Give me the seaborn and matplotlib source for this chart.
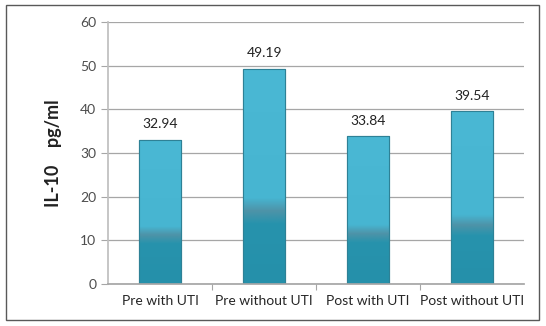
import numpy as np
import pandas as pd
import matplotlib
matplotlib.use("Agg")
import matplotlib.pyplot as plt
from matplotlib.colors import LinearSegmentedColormap
from matplotlib.patches import Rectangle
import seaborn as sns

categories = ["Pre with UTI", "Pre without UTI", "Post with UTI", "Post without UTI"]
values = [32.94, 49.19, 33.84, 39.54]
value_labels = ["32.94", "49.19", "33.84", "39.54"]
y_ticks = [0, 10, 20, 30, 40, 50, 60]
y_label = "IL-10    pg/ml"

sns.set_theme(style="white")
plt.rcParams['font.family'] = ['Lato', 'DejaVu Sans']

df = pd.DataFrame({"group": categories, "value": values})

fig = plt.figure(figsize=(5.46, 3.26), dpi=100)
ax = fig.add_axes([0.198, 0.129, 0.762, 0.804])

sns.barplot(data=df, x="group", y="value", ax=ax, width=0.4,
            color="#4AB8D4", edgecolor="#2E8196", linewidth=0.8, saturation=1)

ax.set_ylim(0, 60)
ax.set_xlim(-0.5, 3.5)
ax.set_yticks(y_ticks)
ax.set_yticklabels([str(t) for t in y_ticks], color="#4D4D4D", fontsize=10)
ax.tick_params(axis='x', labelsize=10, labelcolor="#262626", length=0, pad=8)
ax.set_xlabel("")
ax.set_ylabel(y_label, fontsize=13, fontweight="bold", color="#222222", labelpad=13)
ax.yaxis.grid(True, color="#A6A6A6", linewidth=0.9)
ax.set_axisbelow(True)
for s in ["top", "right"]:
    ax.spines[s].set_visible(False)
ax.spines["left"].set_color("#BFBFBF")
ax.spines["bottom"].set_color("#A6A6A6")
ax.tick_params(axis='y', which='major', left=True, length=5, color="#A6A6A6", width=0.8)
ax.set_xticks([0.5, 1.5, 2.5], minor=True)
ax.tick_params(axis='x', which='minor', bottom=True, length=4, color="#A6A6A6", width=0.8)

# gradient fill inside bars
cmap = LinearSegmentedColormap.from_list(
    "g", [(0.0, "#2590AA"), (0.28, "#2793AD"), (0.34, "#4E93A8"),
          (0.40, "#47B5D1"), (1.0, "#4AB8D4")])
for p in ax.patches:
    x0, y0 = p.get_x(), p.get_y()
    w, h = p.get_width(), p.get_height()
    grad = np.linspace(0, 1, 256).reshape(-1, 1)
    im = ax.imshow(grad, cmap=cmap, origin="lower", aspect="auto",
                   extent=[x0, x0 + w, y0, y0 + h], zorder=p.get_zorder() + 0.1)
    im.set_clip_path(p)
    ax.add_patch(Rectangle((x0, y0), w, h, fill=False, edgecolor="#2E8196",
                           linewidth=0.8, zorder=p.get_zorder() + 0.2))

for i, (v, lab) in enumerate(zip(values, value_labels)):
    ax.text(i, v + 2.2, lab, ha="center", va="bottom", fontsize=10, color="#222222")

ax.set_xlim(-0.5, 3.5)
ax.set_ylim(0, 60)

fig.patches.append(Rectangle((0.011, 0.018), 0.976, 0.966, transform=fig.transFigure,
                             fill=False, edgecolor="#595959", linewidth=1.0))

fig.savefig("out.png", dpi=100)
